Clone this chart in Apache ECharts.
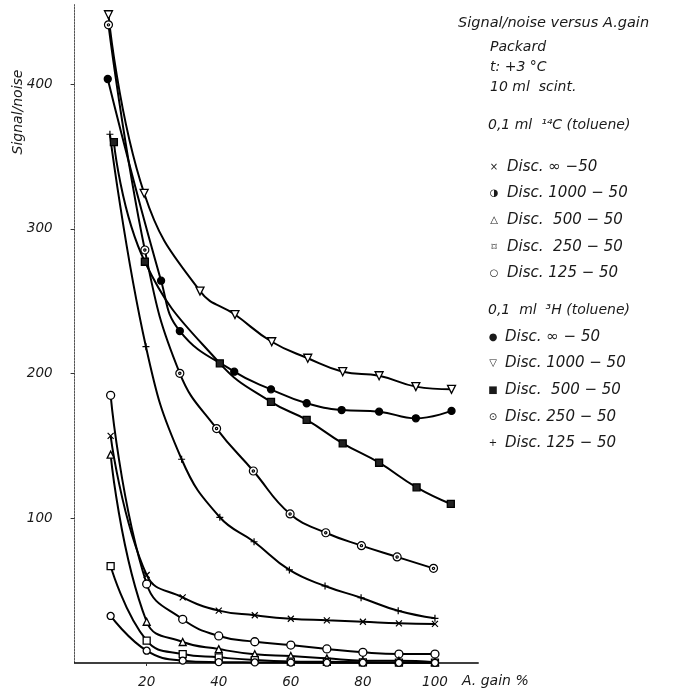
<!DOCTYPE html>
<html><head><meta charset="utf-8">
<script src="https://cdn.jsdelivr.net/npm/echarts@6/dist/echarts.min.js"></script>
<style>html,body{margin:0;padding:0;background:#fff}#c{width:692px;height:694px}</style>
</head><body><div id="c"></div>
<script>
// ---- tick labels ----
const xTickValues = [20, 40, 60, 80, 100];
const yTickValues = [100, 200, 300, 400];

// ---- 0.1 ml 14C (toluene) ----
const c14Inf  = [[10,157],[20,60.8],[30,45.4],[40,36.2],[50,33],[60,30.6],[70,29.5],[80,28.5],[90,27.4],[100,27]];
const c14D1000 = [[10,185],[20,54.6],[30,30.2],[40,18.7],[50,14.7],[60,12.4],[70,9.7],[80,7.4],[90,6.2],[100,6.2]];
const c14D500 = [[10,144],[20,28.5],[30,14.5],[40,9.6],[50,6],[60,4.8],[70,3.2],[80,1.6],[90,1.6],[100,0.6]];
const c14D250 = [[10,67],[20,15.4],[30,6.2],[40,3.9],[50,2],[60,1],[70,0.8],[80,0.5],[90,0.3],[100,0.2]];
const c14D125 = [[10,32.5],[20,8.5],[30,1.6],[40,0.6],[50,0.4],[60,0.3],[70,0.2],[80,0.2],[90,0.1],[100,0.1]];

// ---- 0.1 ml 3H (toluene) ----
const h3Inf   = [[9.2,403.6],[24,264.2],[29.2,229.4],[44.3,201.3],[54.5,189.1],[64.4,179.5],[74.1,174.8],[84.5,173.7],[94.7,169.1],[104.6,174.2]];
const h3D1000 = [[9.4,448],[19.3,324.6],[34.8,257],[44.5,240.8],[54.7,222],[64.7,210.6],[74.4,201.3],[84.5,198.5],[94.7,191],[104.6,189.1]];
const h3D500  = [[10.9,360],[19.5,277.3],[40.3,207.1],[54.5,180.4],[64.4,168],[74.4,151.8],[84.5,138.4],[94.9,121.4],[104.4,109.9]];
const h3D250  = [[9.4,441],[19.5,285.4],[29.2,200.2],[39.4,162],[49.6,132.7],[59.8,103],[69.7,90],[79.6,81.1],[89.5,73.3],[99.6,65.4]];
const h3D125  = [[9.8,365.4],[19.8,218.6],[29.7,140.8],[40.3,100.7],[49.8,83.8],[59.6,64.3],[69.5,53.2],[79.5,45.1],[89.8,36.1],[100,30.9]];

// ---- legend texts ----
const headerLines = ['Signal/noise versus A.gain', 'Packard', 't: +3 °C', '10 ml  scint.'];
const groupC14 = '0,1 ml  ¹⁴C (toluene)';
const groupH3 = '0,1  ml  ³H (toluene)';
const c14Names = ['Disc. ∞ −50', 'Disc. 1000 − 50', 'Disc.  500 − 50', 'Disc.  250 − 50', 'Disc. 125 − 50'];
const c14Glyphs = ['×', '◑', '△', '⌑', '○'];
const h3Names = ['Disc. ∞ − 50', 'Disc. 1000 − 50', 'Disc.  500 − 50', 'Disc. 250 − 50', 'Disc. 125 − 50'];
const h3Glyphs = ['●', '▽', '■', '⊙', '+'];

const FONT = '"DejaVu Sans", sans-serif';
const INK = '#1a1a1a';

const crossPath = 'path://M0,0L10,10M10,0L0,10';
const plusPath = 'path://M5,0L5,10M0,5L10,5';
const dotCirclePath = 'path://M10,5A5,5 0 1,1 0,5A5,5 0 1,1 10,5ZM6.4,5A1.4,1.4 0 1,1 3.6,5A1.4,1.4 0 1,1 6.4,5Z';

function mk(data, symbol, opts) {
  opts = opts || {};
  return {
    type: 'line',
    data: data,
    smooth: 0.45,
    symbol: symbol,
    symbolSize: opts.size || 7,
    symbolRotate: opts.rotate || 0,
    showAllSymbol: true,
    lineStyle: { color: '#000', width: 2 },
    itemStyle: {
      color: opts.fill || '#fff',
      borderColor: '#000',
      borderWidth: opts.bw || 1.3
    },
    z: 3,
    animation: false
  };
}

const series = [
  mk(c14Inf, crossPath, { fill: '#000', bw: 1.2, size: 6 }),
  mk(c14D1000, 'circle', { size: 8 }),
  mk(c14D500, 'triangle', { size: 7 }),
  mk(c14D250, 'rect', { size: 7 }),
  mk(c14D125, 'circle', { size: 7 }),
  mk(h3Inf, 'circle', { fill: '#000', size: 7 }),
  mk(h3D1000, 'triangle', { rotate: 180, size: 8 }),
  mk(h3D500, 'rect', { fill: '#222', size: 7 }),
  mk(h3D250, dotCirclePath, { size: 8, bw: 1.2 }),
  mk(h3D125, plusPath, { fill: '#000', bw: 1.2, size: 7 })
];

// legend / annotation texts as graphic elements
const graphics = [];
function txt(s, x, y, size, align) {
  graphics.push({ type: 'text', x: x, y: y, style: {
    text: s, fill: INK, font: 'italic ' + (size || 14) + 'px ' + FONT,
    textAlign: align || 'left', textVerticalAlign: 'middle' } });
}
txt(headerLines[0], 458, 23, 14.5);
txt(headerLines[1], 490, 47, 14);
txt(headerLines[2], 490, 67, 14);
txt(headerLines[3], 490, 87, 14);
txt(groupC14, 488, 125, 14);
const c14Y = [167, 193, 220, 247, 273];
c14Names.forEach((n, i) => { txt(c14Glyphs[i], 494, c14Y[i], 10, 'center'); txt(n, 507, c14Y[i], 15); });
txt(groupH3, 488, 310, 14);
const h3Y = [337, 363, 390, 417, 443];
h3Names.forEach((n, i) => { txt(h3Glyphs[i], 493, h3Y[i], 10, 'center'); txt(n, 505, h3Y[i], 15); });
txt('A. gain %', 462, 681, 14);
graphics.push({ type: 'text', x: 18, y: 112, rotation: Math.PI / 2, style: {
  text: 'Signal/noise', fill: INK, font: 'italic 14px ' + FONT,
  textAlign: 'center', textVerticalAlign: 'middle' } });

const chart = echarts.init(document.getElementById('c'), null, { renderer: 'canvas' });
chart.setOption({
  animation: false,
  backgroundColor: '#fff',
  grid: { left: 74.6, top: 4.6, right: 213.8, bottom: 31, containLabel: false },
  xAxis: {
    type: 'value', min: 0, max: 112,
    splitLine: { show: false },
    axisLine: { show: true, onZero: false, lineStyle: { color: '#000', width: 1.5 } },
    axisTick: { show: true, customValues: xTickValues, length: 3, lineStyle: { color: '#333' } },
    axisLabel: { customValues: xTickValues, color: INK, fontStyle: 'italic', fontSize: 13.5, fontFamily: FONT, margin: 12 }
  },
  yAxis: {
    type: 'value', min: 0, max: 455,
    splitLine: { show: false },
    axisLine: { show: true, onZero: false, lineStyle: { color: '#555', width: 1, type: [2, 1] } },
    axisTick: { show: true, customValues: yTickValues, length: 4, lineStyle: { color: '#333' } },
    axisLabel: { customValues: yTickValues, color: INK, fontStyle: 'italic', fontSize: 13.5, fontFamily: FONT, margin: 22 }
  },
  series: series,
  graphic: graphics
});
</script></body></html>
